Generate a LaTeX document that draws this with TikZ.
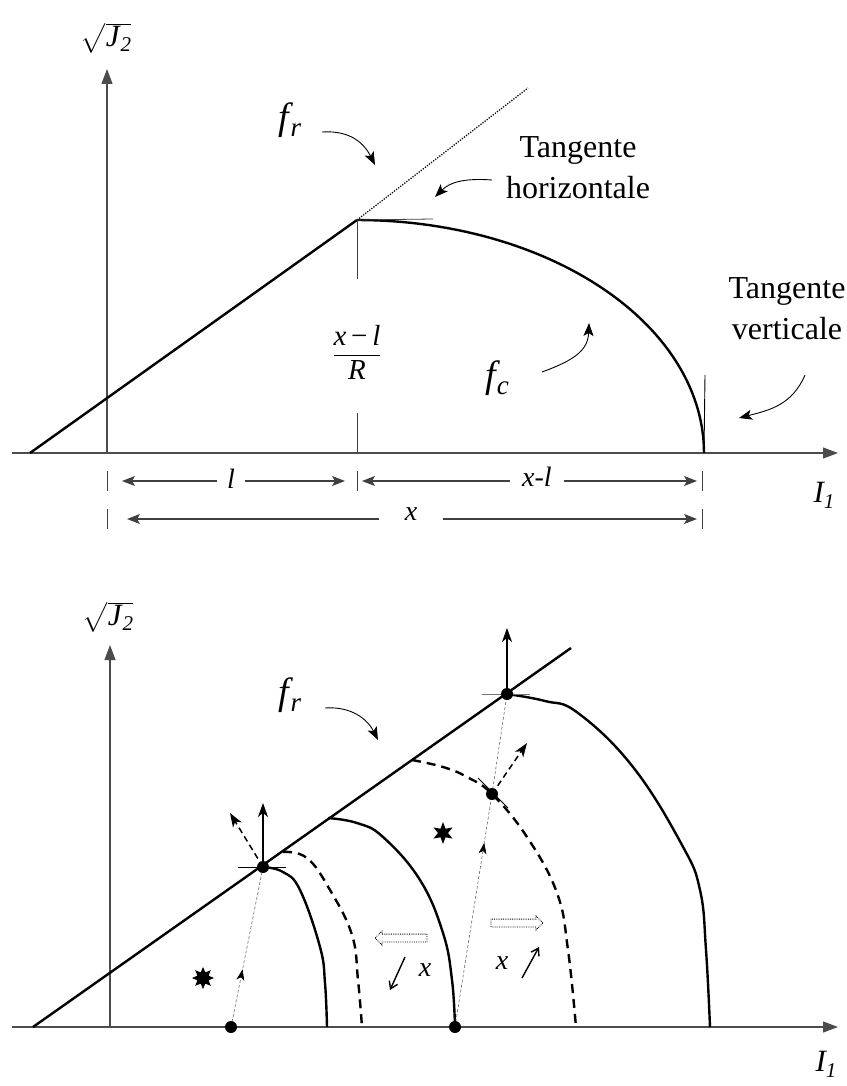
\documentclass[tikz,border=0pt]{standalone}
\usepackage{exscale}
\usepackage{fontspec}
\setmainfont{Liberation Serif}
\usetikzlibrary{arrows.meta,decorations.markings,shapes.arrows,shapes.geometric}

\begin{document}
\begin{tikzpicture}[x=1pt,y=-1pt]
\tikzset{
  axis/.style={draw=black!70,line width=1.1pt,-{Triangle[length=15pt,width=11pt]}},
  curve/.style={line width=2.4pt},
  dashcurve/.style={line width=2.4pt,dash pattern=on 9pt off 6pt},
  guide/.style={draw=black!75,line width=0.8pt},
  dimarrow/.style={draw=black!75,line width=1.1pt,-{Stealth[length=13pt,width=10pt,inset=3pt]}},
  pointer/.style={line width=0.9pt,-{Stealth[length=13pt,width=10pt,inset=3pt]}},
  normal/.style={line width=1.5pt,-{Stealth[length=14pt,width=10pt,inset=4pt]}},
  dnormal/.style={line width=1.5pt,dash pattern=on 6pt off 4pt,-{Stealth[length=14pt,width=10pt,inset=4pt]}},
  trajet/.style={draw=black!60,line width=0.6pt,dash pattern=on 3pt off 2pt},
  midarrow/.style={postaction={decorate},decoration={markings,
    mark=at position #1 with {\arrow[black]{Stealth[length=11pt,width=8pt,inset=3pt]}}}},
  dot/.style={circle,fill,inner sep=0pt,minimum size=12pt},
  hollow/.style={single arrow,draw,densely dotted,line width=0.8pt,inner sep=3.5pt,
    single arrow head extend=3pt,minimum height=52pt,font=\tiny},
  etoile/.style={star,fill,inner sep=0pt,star point ratio=2.2,minimum size=22pt},
  lbig/.style={font=\fontsize{38}{42}\selectfont\itshape,inner sep=1pt},
  ltext/.style={font=\fontsize{32}{41}\selectfont,align=center},
  lmid/.style={font=\fontsize{31}{34}\selectfont\itshape,inner sep=1pt},
  ldim/.style={font=\fontsize{28}{30}\selectfont\itshape}
}
\useasboundingbox (0,0) rectangle (846,1086);

% ---- upper diagram
\coordinate (ax1s) at (12,453);
\coordinate (ax1e) at (838,453);
\coordinate (o1) at (107,453);
\coordinate (ay1e) at (107,69);
\draw[axis] (ax1s) -- (ax1e);
\draw[axis] (o1) -- (ay1e);
\node[lmid] (j2a) at (106,38) {$\sqrt{\hbox{\rule[-6pt]{0pt}{26pt}J\kern1pt\raisebox{-5pt}{\fontsize{21}{22}\selectfont 2}}}$};
\node[lmid] (i1a) at (824,495) {I\raisebox{-6pt}{\fontsize{21}{22}\selectfont 1}};

\coordinate (r0) at (30,453);
\coordinate (k) at (357,220);
\coordinate (rend) at (528,88);
\coordinate (c0) at (704,453);
\draw[curve] (r0) -- (k);
\draw[line width=1.3pt,dash pattern=on 1.2pt off 1.4pt] (k) -- (rend);
\draw[curve] plot[domain=90:0,samples=60] ({357+347*cos(\x)},{453-233*sin(\x)});

% tangents
\coordinate (th1) at (433,219);
\draw[guide] (k) -- (th1);
\coordinate (tv1) at (705,375);
\draw[line width=0.9pt] (tv1) -- (c0);
\coordinate (kv1) at (357,279);
\coordinate (kv2) at (357,413);
\coordinate (kv3) at (357,453);
\draw[guide] (k) -- (kv1);
\draw[guide] (kv2) -- (kv3);
\node[font=\fontsize{29}{30}\selectfont\itshape] (frac) at (357,352)
  {$\displaystyle\frac{\hbox{x\,{\upshape\textminus}\,l}}{\hbox{R}}$};

% labels and pointers
\node[lbig] (fra) at (290,120) {f\kern1pt\raisebox{-7pt}{\fontsize{27}{28}\selectfont r}};
\coordinate (fra1) at (322,132);
\coordinate (fra2) at (375,165);
\draw[pointer] (fra1) .. controls (352,130) and (365,145) .. (fra2);
\node[ltext] (thz) at (578,168) {Tangente\\horizontale};
\coordinate (thz1) at (492,180);
\coordinate (thz2) at (435,197);
\draw[pointer] (thz1) .. controls (465,178) and (450,182) .. (thz2);
\node[lbig] (fca) at (497,378) {f\kern1pt\raisebox{-7pt}{\fontsize{27}{28}\selectfont c}};
\coordinate (fca1) at (542,372);
\coordinate (fca2) at (589,323);
\draw[pointer] (fca1) .. controls (575,360) and (588,350) .. (fca2);
\node[ltext] (tvt) at (787,309) {Tangente\\verticale};
\coordinate (tvt1) at (805,375);
\coordinate (tvt2) at (739,418);
\draw[pointer] (tvt1) .. controls (792,405) and (770,410) .. (tvt2);

% dimensions
\foreach \xx in {107,357,702}
  \draw[guide] (\xx,471) -- (\xx,491);
\foreach \xx in {107,702}
  \draw[guide] (\xx,509) -- (\xx,529);
\node[ldim,inner xsep=10pt] (dl) at (231,479) {l};
\coordinate (dl1) at (122,481);
\coordinate (dl2) at (345,481);
\draw[dimarrow] (dl.west |- dl1) -- (dl1);
\draw[dimarrow] (dl.east |- dl2) -- (dl2);
\node[ldim,inner xsep=12pt] (dxl) at (537,477) {x-l};
\coordinate (dxl1) at (362,481);
\coordinate (dxl2) at (697,481);
\draw[dimarrow] (dxl.west |- dxl1) -- (dxl1);
\draw[dimarrow] (dxl.east |- dxl2) -- (dxl2);
\node[ldim,inner xsep=26pt] (dx) at (411,514) {x};
\coordinate (dx1) at (127,519);
\coordinate (dx2) at (697,519);
\draw[dimarrow] (dx.west |- dx1) -- (dx1);
\draw[dimarrow] (dx.east |- dx2) -- (dx2);

% ---- lower diagram
\coordinate (ax2s) at (12,1027);
\coordinate (ax2e) at (838,1027);
\coordinate (o2) at (110,1027);
\coordinate (ay2e) at (110,645);
\draw[axis] (ax2s) -- (ax2e);
\draw[axis] (o2) -- (ay2e);
\node[lmid] (j2b) at (108,617) {$\sqrt{\hbox{\rule[-6pt]{0pt}{26pt}J\kern1pt\raisebox{-5pt}{\fontsize{21}{22}\selectfont 2}}}$};
\node[lmid] (i1b) at (826,1064) {I\raisebox{-6pt}{\fontsize{21}{22}\selectfont 1}};

\coordinate (s0) at (33,1027);
\coordinate (s1) at (571,648);
\draw[curve] (s0) -- (s1);

\coordinate (p0) at (231,1027);
\coordinate (p1) at (263,867);
\coordinate (p2) at (455,1027);
\coordinate (p3) at (492,794);
\coordinate (p4) at (507,694);

\draw[curve] plot[smooth,tension=0.7] coordinates {(p1) (283,872) (300,890) (320,947) (325,983) (327,1027)};
\draw[dashcurve] plot[smooth,tension=0.7] coordinates {(283,852) (307,858) (330,890) (352,935) (358,980) (362,1027)};
\draw[curve] plot[smooth,tension=0.7] coordinates {(328,818) (357,823) (383,837) (420,880) (443,933) (452,980) (p2)};
\draw[dashcurve] plot[smooth,tension=0.7] coordinates {(412,760) (443,767) (467,777) (p3) (527,837) (557,893) (568,950) (576,1027)};
\draw[curve] plot[smooth,tension=0.7] coordinates {(p4) (545,701) (578,713) (633,767) (682,845) (700,890) (706,950) (710,1027)};

% paths of the points
\draw[trajet,midarrow=0.36] (p0) -- (p1);
\draw[trajet,midarrow=0.79] (p2) -- (p3);
\draw[trajet] (p3) -- (p4);

% ticks and normals
\draw[line width=0.9pt] (238,867) -- (286,867);
\draw[guide,draw=black!55] (482,694) -- (530,694);
\draw[line width=0.8pt] (478,778) -- (508,808);
\coordinate (n1) at (263,803);
\coordinate (n1d) at (230,813);
\coordinate (n4) at (507,628);
\coordinate (n3d) at (527,743);
\draw[normal] (p1) -- (n1);
\draw[dnormal] (p1) -- (n1d);
\draw[normal] (p4) -- (n4);
\draw[dnormal] (p3) -- (n3d);

\foreach \p in {p0,p1,p2,p3,p4}
  \node[dot] at (\p) {};

% stars
\node[etoile,star points=6] (st1) at (443,833) {};
\node[etoile,star points=8,star point ratio=1.8] (st2) at (203,978) {};

% evolution of x
\node[hollow,shape border rotate=180] (hl) at (403,938) {};
\node[hollow] (hr) at (515,923) {};
\coordinate (xa1) at (405,957);
\coordinate (xa2) at (390,990);
\draw[line width=1.4pt,-{Straight Barb[length=7pt,width=9pt]}] (xa1) -- (xa2);
\node[ldim] (xl) at (425,970) {x};
\coordinate (xb1) at (522,978);
\coordinate (xb2) at (539,947);
\draw[line width=1.4pt,-{Straight Barb[length=7pt,width=9pt]}] (xb1) -- (xb2);
\node[ldim] (xr) at (502,963) {x};

\node[lbig] (frb) at (290,695) {f\kern1pt\raisebox{-7pt}{\fontsize{27}{28}\selectfont r}};
\coordinate (frb1) at (325,708);
\coordinate (frb2) at (378,740);
\draw[pointer] (frb1) .. controls (352,706) and (368,720) .. (frb2);
\end{tikzpicture}
\end{document}
